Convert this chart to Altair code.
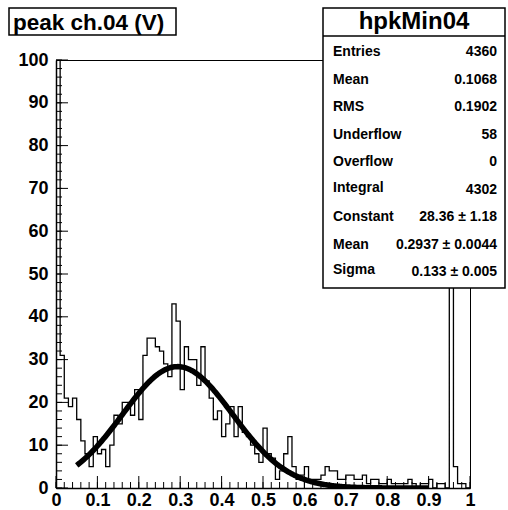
import altair as alt
import numpy as np
import pandas as pd

# Histogram hpkMin04: 100 bins of 0.01 V from 0 to 1 (counts per bin)
bin_lo = 0.0
bin_width = 0.01
counts = [
    2950, 31, 21, 19, 21, 16, 11, 8, 5, 12,
    8, 9, 5, 10, 17, 15, 20, 20, 17, 23,
    16, 31, 35, 35, 33, 32, 29, 26, 43, 39,
    23, 33, 30, 30, 24, 33, 25, 21, 16, 18,
    12, 15, 19, 12, 19, 13, 12, 10, 8, 6,
    14, 8, 7, 2, 4, 8, 12, 5, 2, 3,
    5, 2, 2, 2, 3, 5, 4, 4, 2, 2,
    3, 3, 2, 2, 3, 1, 2, 2, 1, 1,
    2, 1, 1, 1, 1, 2, 1, 0, 1, 1,
    2, 0, 1, 1, 0, 118, 5, 1, 1, 0,
]

# Gaussian fit result
fit_constant = 28.36
fit_mean = 0.2937
fit_sigma = 0.133
fit_lo, fit_hi = 0.05, 0.90

title_text = "peak ch.04 (V)"
stats_title = "hpkMin04"
stat_names = ["Entries", "Mean", "RMS", "Underflow", "Overflow", "Integral",
              "Constant", "Mean", "Sigma"]
stat_values = ["4360", "0.1068", "0.1902", "58", "0", "4302",
               "28.36 \u00b1 1.18", "0.2937 \u00b1 0.0044", "0.133 \u00b1 0.005"]

y_labels = list(range(0, 101, 10))
x_labels = [round(0.1 * i, 1) for i in range(11)]

FONT = "Liberation Sans"
W, H = 414, 428

# step outline of the histogram
edges = [bin_lo + i * bin_width for i in range(len(counts))]
hx = [0.0] + edges + [1.0, 1.0]
hy = [0] + counts + [counts[-1], 0]
hist = pd.DataFrame({"x": hx, "n": hy, "i": list(range(len(hx)))})

# fit function evaluated from its parameters
fx = np.linspace(fit_lo, fit_hi, 300)
fy = fit_constant * np.exp(-0.5 * ((fx - fit_mean) / fit_sigma) ** 2)
fit = pd.DataFrame({"x": fx, "y": fy})

xscale = alt.Scale(domain=[0, 1], nice=False, zero=False)
yscale = alt.Scale(domain=[0, 100], nice=False, zero=False)

xaxis = alt.Axis(values=x_labels, ticks=False, grid=False, domain=True,
                 domainColor="black", domainWidth=1.5, title=None,
                 labelExpr="datum.value == 0 ? '0' : datum.value == 1 ? '1' : format(datum.value, '.1f')",
                 labelFont=FONT, labelFontWeight="bold", labelFontSize=18,
                 labelColor="black", labelPadding=3, labelFlush=False,
                 labelOverlap=False)
yaxis = alt.Axis(values=y_labels, ticks=False, grid=False, domain=True,
                 domainColor="black", domainWidth=1.5, title=None,
                 labelFont=FONT, labelFontWeight="bold", labelFontSize=18,
                 labelColor="black", labelPadding=8, labelFlush=False,
                 labelOverlap=False)


def X(field):
    return alt.X(field, scale=xscale, axis=xaxis)


def Y(field):
    return alt.Y(field, scale=yscale, axis=yaxis)


hist_layer = alt.Chart(hist).mark_line(
    interpolate="step-after", color="black", strokeWidth=1.3, clip=True
).encode(x=X("x:Q"), y=Y("n:Q"), order="i:Q")

fit_layer = alt.Chart(fit).mark_line(
    color="black", strokeWidth=5.5, clip=True, strokeCap="butt"
).encode(x=X("x:Q"), y=Y("y:Q"))


# inward ticks (major every 10 / 0.1, minor every 2 / 0.02)
def ytick(step, length):
    df = pd.DataFrame({"v": list(range(0, 101, step))})
    return alt.Chart(df).mark_rule(color="black", strokeWidth=1).encode(
        y=Y("v:Q"), x=alt.value(0), x2=alt.value(length))


def xtick(n, length):
    df = pd.DataFrame({"v": [i / n for i in range(n + 1)]})
    return alt.Chart(df).mark_rule(color="black", strokeWidth=1).encode(
        x=X("v:Q"), y=alt.value(H), y2=alt.value(H - length))


one = pd.DataFrame({"a": [0]})


def box(x0, x1, y0, y1):
    return alt.Chart(one).mark_rect(fill="white", stroke="black", strokeWidth=1.5).encode(
        x=alt.value(x0), x2=alt.value(x1), y=alt.value(y0), y2=alt.value(y1))


def label(text, x, y, size, align="left"):
    return alt.Chart(pd.DataFrame({"t": [text]})).mark_text(
        align=align, baseline="middle", font=FONT, fontWeight="bold",
        fontSize=size, color="black"
    ).encode(x=alt.value(x), y=alt.value(y), text="t:N")


layers = [hist_layer, fit_layer, ytick(2, 6), ytick(10, 12), xtick(50, 6), xtick(10, 12)]

# title box
layers.append(box(-47, 120, -52, -25))
layers.append(label(title_text, -43, -37, 22.5))

# statistics box
sx0, sx1, sy0, sy1 = 267, 449, -52, 228
layers.append(box(sx0, sx1, sy0, sy1))
layers.append(alt.Chart(one).mark_rule(color="black", strokeWidth=1.5).encode(
    x=alt.value(sx0), x2=alt.value(sx1), y=alt.value(-24)))
layers.append(label(stats_title, (sx0 + sx1) / 2, -38, 24, align="center"))
for k, (name, val) in enumerate(zip(stat_names, stat_values)):
    yy = -8 + 27.5 * k
    lift = 2 if ("g" in name) else 0
    layers.append(label(name, sx0 + 10, yy - lift, 14))
    layers.append(label(val, sx1 - 8, yy, 14, align="right"))

chart = alt.layer(*layers).properties(
    width=W, height=H,
    autosize=alt.AutoSizeParams(type="none"),
    padding={"left": 56, "top": 60, "right": 38, "bottom": 22},
    background="white",
).configure_view(stroke="black", strokeWidth=1)

chart.save("out.html", embed_options={"renderer": "svg", "actions": False})
